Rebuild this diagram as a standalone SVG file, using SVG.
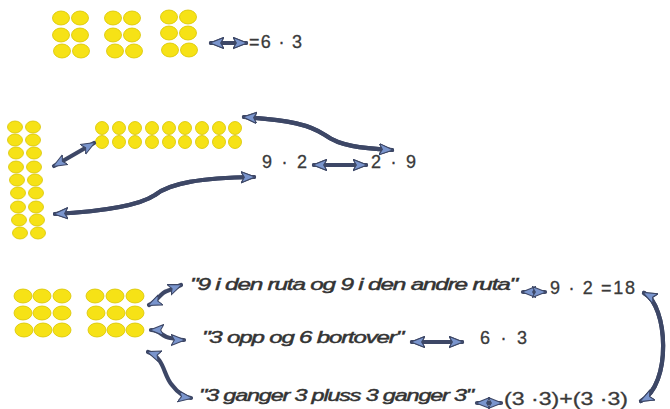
<svg xmlns="http://www.w3.org/2000/svg" xmlns:xlink="http://www.w3.org/1999/xlink" width="670" height="409" viewBox="0 0 670 409">
  <style>
    .dot { fill: #f6e214; stroke: #d8c400; stroke-width: 0.8; }
    .num { font-family: "Liberation Sans", Arial, sans-serif; font-size: 18px; fill: #3a3a3a; stroke: #3a3a3a; stroke-width: 0.3; }
    .quote { font-family: "Liberation Sans", Arial, sans-serif; font-size: 16px; font-style: italic; fill: #333; stroke: #333; stroke-width: 0.45; letter-spacing: -0.8px; }
    .shaft { fill: none; stroke: #3d4766; stroke-width: 4.2; stroke-linecap: round; marker-start: url(#head); marker-end: url(#head); }
    .core { fill: none; stroke: #7f96c6; stroke-width: 1.4; stroke-linecap: round; }
  </style>
  <defs>
    <marker id="head" viewBox="0 0 14 12" refX="12" refY="6" markerWidth="15" markerHeight="13" markerUnits="userSpaceOnUse" orient="auto-start-reverse">
      <path d="M0,0.8 L13,6 L0,11.2 L3,6 Z" fill="#7a95cd" stroke="#3d4766" stroke-width="1" stroke-linejoin="round"/>
    </marker>
    <filter id="soft" x="-10%" y="-10%" width="120%" height="120%">
      <feGaussianBlur stdDeviation="0.5"/>
    </filter>
  </defs>

  <!-- top: three blocks of 2x3 -->
  <g id="blocks-2x3" filter="url(#soft)">
    <ellipse class="dot" cx="61" cy="18" rx="8.5" ry="7"/><ellipse class="dot" cx="80" cy="18" rx="8.5" ry="7"/>
    <ellipse class="dot" cx="61" cy="35" rx="8.5" ry="7"/><ellipse class="dot" cx="80" cy="35" rx="8.5" ry="7"/>
    <ellipse class="dot" cx="62" cy="51" rx="8.5" ry="7"/><ellipse class="dot" cx="81" cy="51" rx="8.5" ry="7"/>
    <ellipse class="dot" cx="113" cy="18" rx="8.5" ry="7"/><ellipse class="dot" cx="132" cy="18" rx="8.5" ry="7"/>
    <ellipse class="dot" cx="113" cy="35" rx="8.5" ry="7"/><ellipse class="dot" cx="132" cy="35" rx="8.5" ry="7"/>
    <ellipse class="dot" cx="115" cy="51" rx="8.5" ry="7"/><ellipse class="dot" cx="134" cy="51" rx="8.5" ry="7"/>
    <ellipse class="dot" cx="169" cy="17" rx="8.5" ry="7"/><ellipse class="dot" cx="188" cy="17" rx="8.5" ry="7"/>
    <ellipse class="dot" cx="169" cy="33" rx="8.5" ry="7"/><ellipse class="dot" cx="188" cy="33" rx="8.5" ry="7"/>
    <ellipse class="dot" cx="170" cy="50" rx="8.5" ry="7"/><ellipse class="dot" cx="189" cy="50" rx="8.5" ry="7"/>
  </g>
  <g id="expr-6x3-top">
    <text class="num" x="249" y="48" font-size="16" textLength="53" lengthAdjust="spacing">=6 · 3</text>
  </g>

  <!-- middle: 2 by 9 column and 9 by 2 row -->
  <g id="column-2x9" filter="url(#soft)">
    <ellipse class="dot" cx="15" cy="127" rx="7.5" ry="6"/><ellipse class="dot" cx="33" cy="127" rx="7.5" ry="6"/>
    <ellipse class="dot" cx="15" cy="140" rx="7.5" ry="6"/><ellipse class="dot" cx="33" cy="140" rx="7.5" ry="6"/>
    <ellipse class="dot" cx="16" cy="153" rx="7.5" ry="6"/><ellipse class="dot" cx="34" cy="153" rx="7.5" ry="6"/>
    <ellipse class="dot" cx="16" cy="167" rx="7.5" ry="6"/><ellipse class="dot" cx="34" cy="167" rx="7.5" ry="6"/>
    <ellipse class="dot" cx="17" cy="180" rx="7.5" ry="6"/><ellipse class="dot" cx="35" cy="180" rx="7.5" ry="6"/>
    <ellipse class="dot" cx="18" cy="193" rx="7.5" ry="6"/><ellipse class="dot" cx="36" cy="193" rx="7.5" ry="6"/>
    <ellipse class="dot" cx="18" cy="207" rx="7.5" ry="6"/><ellipse class="dot" cx="36" cy="207" rx="7.5" ry="6"/>
    <ellipse class="dot" cx="19" cy="220" rx="7.5" ry="6"/><ellipse class="dot" cx="37" cy="220" rx="7.5" ry="6"/>
    <ellipse class="dot" cx="20" cy="233" rx="7.5" ry="6"/><ellipse class="dot" cx="38" cy="233" rx="7.5" ry="6"/>
  </g>
  <g id="row-9x2" filter="url(#soft)">
    <ellipse class="dot" cx="102" cy="128" rx="6.5" ry="6.5"/><ellipse class="dot" cx="119" cy="128" rx="6.5" ry="6.5"/>
    <ellipse class="dot" cx="135" cy="128" rx="6.5" ry="6.5"/><ellipse class="dot" cx="152" cy="128" rx="6.5" ry="6.5"/>
    <ellipse class="dot" cx="169" cy="128" rx="6.5" ry="6.5"/><ellipse class="dot" cx="185" cy="128" rx="6.5" ry="6.5"/>
    <ellipse class="dot" cx="202" cy="128" rx="6.5" ry="6.5"/><ellipse class="dot" cx="219" cy="128" rx="6.5" ry="6.5"/>
    <ellipse class="dot" cx="235" cy="128" rx="6.5" ry="6.5"/>
    <ellipse class="dot" cx="102" cy="142" rx="6.5" ry="6.5"/><ellipse class="dot" cx="119" cy="142" rx="6.5" ry="6.5"/>
    <ellipse class="dot" cx="135" cy="142" rx="6.5" ry="6.5"/><ellipse class="dot" cx="152" cy="142" rx="6.5" ry="6.5"/>
    <ellipse class="dot" cx="169" cy="142" rx="6.5" ry="6.5"/><ellipse class="dot" cx="185" cy="142" rx="6.5" ry="6.5"/>
    <ellipse class="dot" cx="202" cy="142" rx="6.5" ry="6.5"/><ellipse class="dot" cx="219" cy="142" rx="6.5" ry="6.5"/>
    <ellipse class="dot" cx="235" cy="142" rx="6.5" ry="6.5"/>
  </g>
  <g id="expr-9x2">
    <text class="num" x="262" y="168" textLength="45" lengthAdjust="spacing">9 · 2</text>
  </g>
  <g id="expr-2x9">
    <text class="num" x="371" y="168" textLength="45" lengthAdjust="spacing">2 · 9</text>
  </g>

  <!-- bottom: two blocks of 3x3 -->
  <g id="blocks-3x3" filter="url(#soft)">
    <ellipse class="dot" cx="23" cy="296" rx="9" ry="7"/><ellipse class="dot" cx="42" cy="296" rx="9" ry="7"/><ellipse class="dot" cx="62" cy="296" rx="9" ry="7"/>
    <ellipse class="dot" cx="23" cy="313" rx="9" ry="7"/><ellipse class="dot" cx="42" cy="313" rx="9" ry="7"/><ellipse class="dot" cx="62" cy="313" rx="9" ry="7"/>
    <ellipse class="dot" cx="24" cy="330" rx="9" ry="7"/><ellipse class="dot" cx="43" cy="330" rx="9" ry="7"/><ellipse class="dot" cx="62" cy="330" rx="9" ry="7"/>
    <ellipse class="dot" cx="95" cy="296" rx="9" ry="7"/><ellipse class="dot" cx="115" cy="296" rx="9" ry="7"/><ellipse class="dot" cx="135" cy="296" rx="9" ry="7"/>
    <ellipse class="dot" cx="96" cy="313" rx="9" ry="7"/><ellipse class="dot" cx="116" cy="313" rx="9" ry="7"/><ellipse class="dot" cx="135" cy="313" rx="9" ry="7"/>
    <ellipse class="dot" cx="97" cy="330" rx="9" ry="7"/><ellipse class="dot" cx="116" cy="330" rx="9" ry="7"/><ellipse class="dot" cx="135" cy="330" rx="9" ry="7"/>
  </g>
  <g id="say-ruta">
    <text class="quote" x="190" y="290" textLength="327" lengthAdjust="spacingAndGlyphs">"9 i den ruta og 9 i den andre ruta"</text>
  </g>
  <g id="expr-9x2-18">
    <text class="num" x="550" y="294" textLength="85" lengthAdjust="spacing">9 · 2 =18</text>
  </g>
  <g id="say-opp">
    <text class="quote" x="202" y="343" textLength="201" lengthAdjust="spacingAndGlyphs">"3 opp og 6 bortover"</text>
  </g>
  <g id="expr-6x3">
    <text class="num" x="480" y="344" textLength="47" lengthAdjust="spacing">6 · 3</text>
  </g>
  <g id="say-ganger">
    <text class="quote" x="199" y="401" textLength="274" lengthAdjust="spacingAndGlyphs">"3 ganger 3 pluss 3 ganger 3"</text>
  </g>
  <g id="expr-sum">
    <text class="num" x="504" y="405" textLength="124" lengthAdjust="spacingAndGlyphs">(3 ·3)+(3 ·3)</text>
  </g>

  <!-- connectors: double-headed arrows -->
  <g id="connectors" filter="url(#soft)">
    <path id="a1" class="shaft" d="M211,43 L246,43"/>
    <path id="a2" class="shaft" d="M54,166 L94,143"/>
    <path id="a3" class="shaft" d="M55,214 C110,211 140,205 155,195 C170,183 200,178 254,177"/>
    <path id="a4" class="shaft" d="M244,117 C290,120 310,125 325,135 C340,146 360,148 392,150"/>
    <path id="a5" class="shaft" d="M314,165 L366,165"/>
    <path id="a6" class="shaft" d="M149,305 C158,301 160,293 167,291 C173,289 176,287 181,285"/>
    <path id="a7" class="shaft" d="M151,330 C160,330 162,337 170,338 C176,339 180,340 184,340"/>
    <path id="a8" class="shaft" d="M148,352 C165,358 163,375 172,385 C178,393 184,397 191,398"/>
    <path id="a9" class="shaft" d="M523,292 L545,292"/>
    <path id="a10" class="shaft" d="M412,342 L462,342"/>
    <path id="a11" class="shaft" d="M477,403 L501,403"/>
    <path id="a12" class="shaft" d="M644,293 C668,305 672,385 641,401"/>
    <use xlink:href="#a1" class="core" style="marker:none"/>
    <use xlink:href="#a3" class="core" style="marker:none"/>
    <use xlink:href="#a4" class="core" style="marker:none"/>
    <use xlink:href="#a5" class="core" style="marker:none"/>
    <use xlink:href="#a10" class="core" style="marker:none"/>
    <use xlink:href="#a12" class="core" style="marker:none"/>
  </g>
</svg>
